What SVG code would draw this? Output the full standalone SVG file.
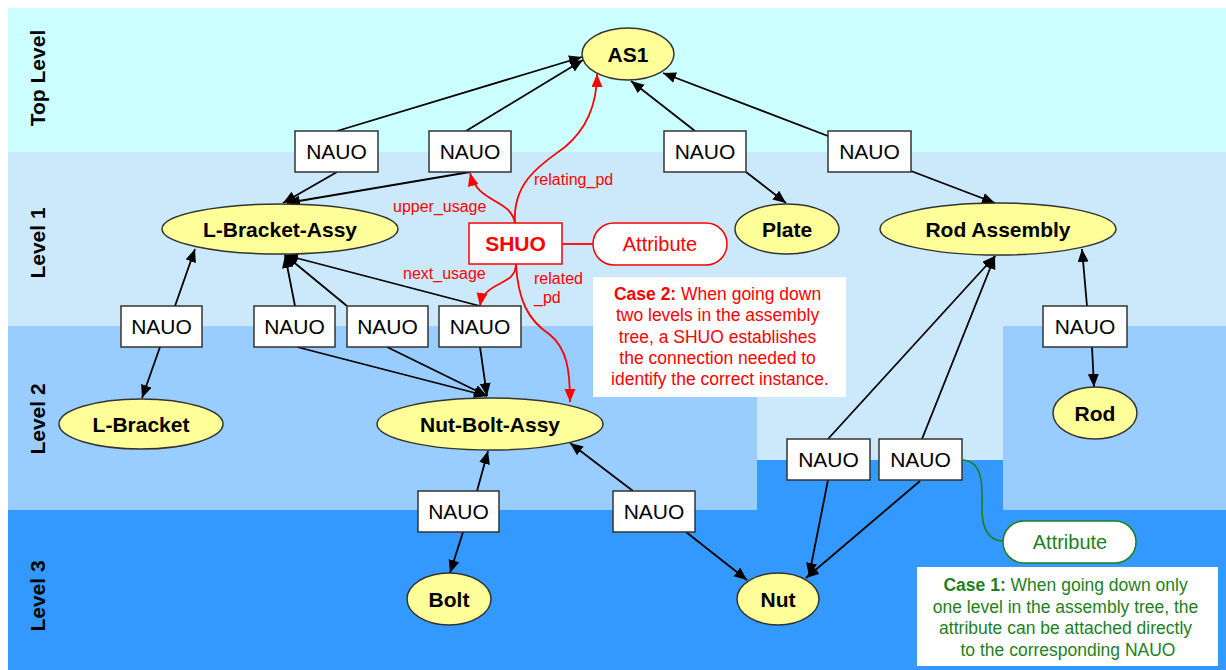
<svg xmlns="http://www.w3.org/2000/svg" width="1226" height="670" viewBox="0 0 1226 670">
<style>
.band-top{fill:#CCFFFF}
.band-1{fill:#CCE9FB}
.band-2{fill:#99CCFF}
.band-3{fill:#3399FF}
.lvl{font-family:"Liberation Sans",Arial,sans-serif;font-weight:bold;font-size:21px;fill:#000;text-anchor:middle}
.nauo rect{fill:#fff;stroke:#333;stroke-width:1.5}
.nauo text{font-family:"Liberation Sans",Arial,sans-serif;font-size:21px;fill:#000;text-anchor:middle}
.ent ellipse{fill:#FFFF99;stroke:#333;stroke-width:1.5}
.ent text{font-family:"Liberation Sans",Arial,sans-serif;font-weight:bold;font-size:21px;fill:#000;text-anchor:middle}
.edge{stroke:#000;stroke-width:1.8;fill:none;marker-end:url(#ab)}
.redge{stroke:#FF0000;stroke-width:1.8;fill:none;marker-end:url(#ar)}
.rlab{font-family:"Liberation Sans",Arial,sans-serif;font-size:16px;fill:#FF0000}
.note{font-family:"Liberation Sans",Arial,sans-serif;font-size:17.5px;text-anchor:middle}
</style>
<defs>
<marker id="ab" markerUnits="userSpaceOnUse" markerWidth="14" markerHeight="12" refX="13" refY="5.5" orient="auto">
<path d="M0,0 L13,5.5 L0,11 z" fill="#000"/>
</marker>
<marker id="ar" markerUnits="userSpaceOnUse" markerWidth="14" markerHeight="12" refX="13" refY="5.5" orient="auto">
<path d="M0,0 L13,5.5 L0,11 z" fill="#FF0000"/>
</marker>
</defs>
<rect x="0" y="0" width="1226" height="670" fill="#fff"/>
<g id="bands">
<rect class="band-top" x="8" y="8" width="1218" height="144"/>
<rect class="band-1" x="8" y="152" width="1218" height="174"/>
<rect class="band-1" x="757" y="326" width="246" height="134"/>
<rect class="band-2" x="8" y="326" width="749" height="184"/>
<rect class="band-2" x="1003" y="326" width="223" height="184"/>
<rect class="band-3" x="8" y="510" width="1218" height="160"/>
<rect class="band-3" x="757" y="460" width="246" height="50"/>
</g>
<g id="level-labels">
<text class="lvl" x="45" y="78" transform="rotate(-90 45 78)">Top Level</text>
<text class="lvl" x="45" y="243" transform="rotate(-90 45 243)">Level 1</text>
<text class="lvl" x="45" y="419" transform="rotate(-90 45 419)">Level 2</text>
<text class="lvl" x="45" y="596" transform="rotate(-90 45 596)">Level 3</text>
</g>
<g id="notes">
<rect x="593" y="277" width="253" height="120" fill="#fff"/>
<text class="note" fill="#FF0000">
<tspan x="720" y="300"><tspan font-weight="bold">Case 2:</tspan> When going down</tspan>
<tspan x="720" y="321">two levels in the assembly</tspan>
<tspan x="720" y="342.5">tree, a SHUO establishes</tspan>
<tspan x="720" y="364">the connection needed to</tspan>
<tspan x="720" y="385">identify the correct instance.</tspan>
</text>
<rect x="917" y="567" width="301" height="99" fill="#fff"/>
<text class="note" fill="#1E7F1E">
<tspan x="1068" y="591"><tspan font-weight="bold">Case 1:</tspan> When going down only</tspan>
<tspan x="1068" y="613">one level in the assembly tree, the</tspan>
<tspan x="1068" y="634">attribute can be attached directly</tspan>
<tspan x="1068" y="656">to the corresponding NAUO</tspan>
</text>
</g>
<g id="connectors">
<line class="edge" x1="337" y1="131" x2="582" y2="57"/>
<line class="edge" x1="466" y1="131" x2="583" y2="60"/>
<line class="edge" x1="695" y1="131" x2="631" y2="81"/>
<line class="edge" x1="828" y1="136" x2="663" y2="73"/>
<line class="edge" x1="337" y1="172" x2="283" y2="203"/>
<line class="edge" x1="470" y1="172" x2="287" y2="203"/>
<line class="edge" x1="746" y1="172" x2="786" y2="203"/>
<line class="edge" x1="911" y1="171" x2="995" y2="203"/>
<line class="edge" x1="175" y1="306" x2="195" y2="249"/>
<line class="edge" x1="160" y1="347" x2="142" y2="398"/>
<line class="edge" x1="295" y1="306" x2="285" y2="255"/>
<line class="edge" x1="347" y1="306" x2="285" y2="255"/>
<line class="edge" x1="480" y1="306" x2="285" y2="255"/>
<line class="edge" x1="297" y1="347" x2="487" y2="396"/>
<line class="edge" x1="387" y1="347" x2="487" y2="396"/>
<line class="edge" x1="480" y1="347" x2="487" y2="396"/>
<line class="edge" x1="1087" y1="306" x2="1082" y2="249"/>
<line class="edge" x1="1092" y1="347" x2="1094" y2="387"/>
<line class="edge" x1="828" y1="439" x2="995" y2="256"/>
<line class="edge" x1="922" y1="439" x2="995" y2="256"/>
<line class="edge" x1="828" y1="480" x2="809" y2="576"/>
<line class="edge" x1="920" y1="481" x2="806" y2="578"/>
<line class="edge" x1="477" y1="491" x2="488" y2="451"/>
<line class="edge" x1="463" y1="532" x2="450" y2="573"/>
<line class="edge" x1="633" y1="491" x2="570" y2="443"/>
<line class="edge" x1="686" y1="532" x2="747" y2="580"/>
<path class="redge" d="M515 223 C512 180 545 162 565 147 C590 126 597 100 597 74"/>
<path class="redge" d="M515 223 C510 198 478 204 470 173"/>
<path class="redge" d="M516 264 C516 287 484 280 480 306"/>
<path class="redge" d="M516 264 C518 300 528 320 549 334 C567 348 570 370 570 402"/>
<line x1="562" y1="244" x2="593" y2="244" stroke="#FF0000" stroke-width="1.8"/>
<path d="M963 460 C985 462 982 490 982 510 C982 530 990 541 1003 541" stroke="#1E7F1E" stroke-width="1.6" fill="none"/>
</g>
<g id="red-labels">
<text class="rlab" x="534" y="185">relating_pd</text>
<text class="rlab" x="393" y="212">upper_usage</text>
<text class="rlab" x="403" y="279">next_usage</text>
<text class="rlab" x="534" y="284">related</text>
<text class="rlab" x="534" y="303">_pd</text>
</g>
<g id="AS1" class="ent"><ellipse cx="628" cy="54" rx="46" ry="26"/><text x="628" y="61.5">AS1</text></g>
<g id="L-Bracket-Assy" class="ent"><ellipse cx="280" cy="229" rx="118" ry="25"/><text x="280" y="236.5">L-Bracket-Assy</text></g>
<g id="Plate" class="ent"><ellipse cx="787" cy="229" rx="52" ry="25"/><text x="787" y="236.5">Plate</text></g>
<g id="Rod-Assembly" class="ent"><ellipse cx="998" cy="229" rx="118" ry="26"/><text x="998" y="236.5">Rod Assembly</text></g>
<g id="L-Bracket" class="ent"><ellipse cx="141" cy="424" rx="82" ry="25"/><text x="141" y="431.5">L-Bracket</text></g>
<g id="Nut-Bolt-Assy" class="ent"><ellipse cx="490" cy="424" rx="113" ry="26"/><text x="490" y="431.5">Nut-Bolt-Assy</text></g>
<g id="Rod" class="ent"><ellipse cx="1095" cy="413" rx="42" ry="26"/><text x="1095" y="420.5">Rod</text></g>
<g id="Bolt" class="ent"><ellipse cx="449" cy="599" rx="42" ry="26"/><text x="449" y="606.5">Bolt</text></g>
<g id="Nut" class="ent"><ellipse cx="778" cy="599" rx="41" ry="26"/><text x="778" y="606.5">Nut</text></g>
<g id="NAUO1" class="nauo"><rect x="295" y="131" width="83" height="41"/><text x="336.5" y="159">NAUO</text></g>
<g id="NAUO2" class="nauo"><rect x="429" y="131" width="82" height="41"/><text x="470" y="159">NAUO</text></g>
<g id="NAUO3" class="nauo"><rect x="664" y="131" width="82" height="41"/><text x="705" y="159">NAUO</text></g>
<g id="NAUO4" class="nauo"><rect x="828" y="131" width="83" height="41"/><text x="869.5" y="159">NAUO</text></g>
<g id="NAUO5" class="nauo"><rect x="121" y="306" width="81" height="41"/><text x="161.5" y="334">NAUO</text></g>
<g id="NAUO6" class="nauo"><rect x="254" y="306" width="81" height="41"/><text x="294.5" y="334">NAUO</text></g>
<g id="NAUO7" class="nauo"><rect x="347" y="306" width="81" height="41"/><text x="387.5" y="334">NAUO</text></g>
<g id="NAUO8" class="nauo"><rect x="439" y="306" width="82" height="41"/><text x="480" y="334">NAUO</text></g>
<g id="NAUO9" class="nauo"><rect x="1043" y="306" width="84" height="41"/><text x="1085" y="334">NAUO</text></g>
<g id="NAUO10" class="nauo"><rect x="787" y="439" width="83" height="41"/><text x="828.5" y="467">NAUO</text></g>
<g id="NAUO11" class="nauo"><rect x="879" y="439" width="83" height="41"/><text x="920.5" y="467">NAUO</text></g>
<g id="NAUO12" class="nauo"><rect x="418" y="491" width="81" height="41"/><text x="458.5" y="519">NAUO</text></g>
<g id="NAUO13" class="nauo"><rect x="613" y="491" width="82" height="41"/><text x="654" y="519">NAUO</text></g>
<g id="SHUO"><rect x="469" y="223" width="93" height="41" fill="#fff" stroke="#FF0000" stroke-width="1.5"/><text x="515.5" y="251" font-family="'Liberation Sans',Arial,sans-serif" font-weight="bold" font-size="21" fill="#FF0000" text-anchor="middle">SHUO</text></g>
<g id="Attribute-red"><rect x="593" y="223" width="134" height="42" rx="21" fill="#fff" stroke="#FF0000" stroke-width="1.5"/><text x="660" y="251" font-family="'Liberation Sans',Arial,sans-serif" font-size="20" fill="#FF0000" text-anchor="middle">Attribute</text></g>
<g id="Attribute-green"><rect x="1003" y="521" width="133" height="42" rx="21" fill="#fff" stroke="#1E7F1E" stroke-width="1.5"/><text x="1070" y="549" font-family="'Liberation Sans',Arial,sans-serif" font-size="20" fill="#1E7F1E" text-anchor="middle">Attribute</text></g>
</svg>
